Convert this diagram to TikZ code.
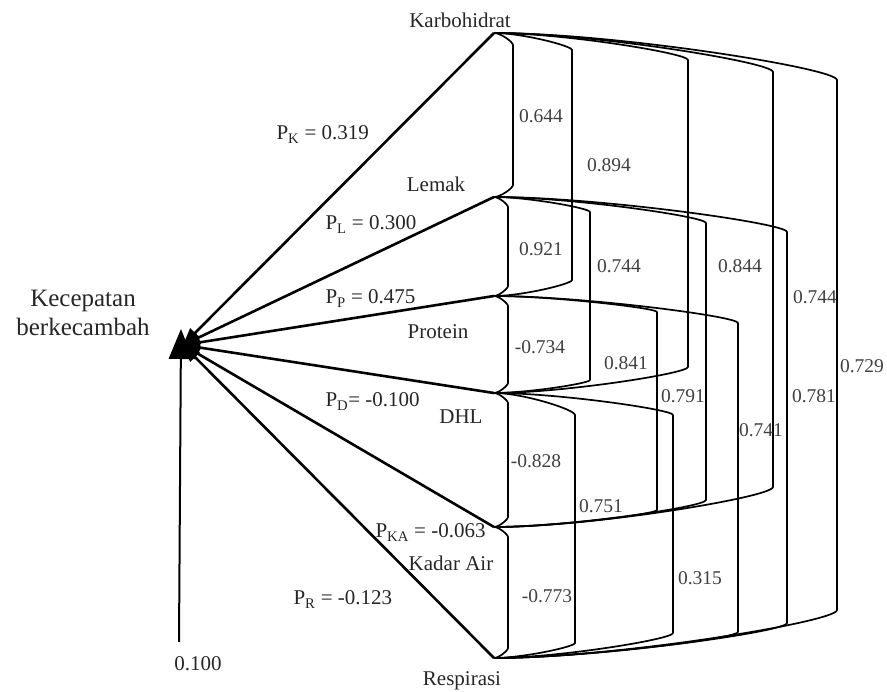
\documentclass[tikz,border=0pt]{standalone}
\usepackage{fontspec}
\setmainfont{Liberation Serif}
\usepackage{tikz}
\usetikzlibrary{calc}
\usetikzlibrary{arrows.meta}

\begin{document}
\begin{tikzpicture}[x=1pt, y=-1pt,
    path/.style={line width=2.6pt, -{Triangle[length=17pt, width=13pt]}},
    corr/.style={line width=1.7pt, line join=round},
    var/.style={anchor=base, font=\fontsize{21}{24}\selectfont, text=black!85},
    coef/.style={anchor=base, font=\fontsize{19.5}{22}\selectfont, text=black!75},
    pval/.style={anchor=base west, font=\fontsize{21}{24}\selectfont, text=black!85}]

    \def\vx{494}; % x coordinate of the variable points
    \useasboundingbox (0,0) rectangle (887,692);

    % points %%%%%%%%%%%%%%%%%%%%%%%%%%%%%%%%%%%%%%%%%%%%%%%%%%%%%%%%%%%%%%%%%%%%%%%%%%%%%%%%%%%
    \coordinate (hub) at (183,345); % where the paths meet
    \coordinate (top) at (181,329);
    \coordinate (err) at (179,642); % residual
    \coordinate (K) at (\vx,33);
    \coordinate (L) at (\vx,197);
    \coordinate (P) at (\vx,296);
    \coordinate (D) at (\vx,393);
    \coordinate (KA) at (\vx,527);
    \coordinate (R) at (\vx,658);

    % path arrows %%%%%%%%%%%%%%%%%%%%%%%%%%%%%%%%%%%%%%%%%%%%%%%%%%%%%%%%%%%%%%%%%%%%%%%%%%%%%%
    \foreach \v in {K,L,P,D,KA,R}{
      \draw[path] (\v) -- (hub);
    }
    \draw[path, line width=2pt, -{Triangle[length=30pt, width=24pt]}] (err) -- (top);

    % correlations %%%%%%%%%%%%%%%%%%%%%%%%%%%%%%%%%%%%%%%%%%%%%%%%%%%%%%%%%%%%%%%%%%%%%%%%%%%%%
    \foreach \a/\b/\xv/\dt/\db in {K/L/513/12/12, K/P/572/17/16, K/D/688/27/26, K/KA/773/39/40,
        K/R/837/47/48, L/P/508/10/10, L/D/590/15/13, L/KA/706/26/27, L/R/787/35/35,
        P/D/508/10/10, P/KA/657/16/17, P/R/738/27/26, D/KA/508/10/10, D/R/575/22/15,
        D/R/673/22/25, KA/R/508/10/10}{
      \pgfmathsetmacro\w{\xv-\vx}
      \draw[corr] (\a) .. controls ($(\a)+(0.35*\w,0)$) and ($(\a)+(\w,0.75*\dt)$) .. ($(\a)+(\w,\dt)$)
        -- ($(\b)+(\w,-\db)$) .. controls ($(\b)+(\w,-0.75*\db)$) and ($(\b)+(0.35*\w,0)$) .. (\b);
    }

    % variable names %%%%%%%%%%%%%%%%%%%%%%%%%%%%%%%%%%%%%%%%%%%%%%%%%%%%%%%%%%%%%%%%%%%%%%%%%%%
    \node[var] (tK) at (460,28) {Karbohidrat};
    \node[var] (tL) at (436,192) {Lemak};
    \node[var] (tP) at (438,339) {Protein};
    \node[var] (tD) at (461,424) {DHL};
    \node[var] (tKA) at (451,571) {Kadar Air};
    \node[var] (tR) at (462,685) {Respirasi};
    \node[var, align=center, font=\fontsize{25}{29}\selectfont] (tY) at (83,336) {Kecepatan\\berkecambah};
    \node[var] (tE) at (198,670) {0.100};

    % path coefficients %%%%%%%%%%%%%%%%%%%%%%%%%%%%%%%%%%%%%%%%%%%%%%%%%%%%%%%%%%%%%%%%%%%%%%%%
    \node[pval] (pK) at (273,140) {P\textsubscript{K} = 0.319};
    \node[pval] (pL) at (322,230) {P\textsubscript{L} = 0.300};
    \node[pval] (pP) at (322,304) {P\textsubscript{P} = 0.475};
    \node[pval] (pD) at (322,407) {P\textsubscript{D}= -0.100};
    \node[pval] (pKA) at (372,538) {P\textsubscript{KA} = -0.063};
    \node[pval] (pR) at (290,605) {P\textsubscript{R} = -0.123};

    % correlation values %%%%%%%%%%%%%%%%%%%%%%%%%%%%%%%%%%%%%%%%%%%%%%%%%%%%%%%%%%%%%%%%%%%%%%%
    \node[coef] (rKL) at (541,123) {0.644};
    \node[coef] (rKP) at (609,172) {0.894};
    \node[coef] (rLP) at (541,256) {0.921};
    \node[coef] (rLD) at (619,273) {0.744};
    \node[coef] (rLKA) at (740,273) {0.844};
    \node[coef] (rKKA) at (815,304) {0.744};
    \node[coef] (rKR) at (862,373) {0.729};
    \node[coef] (rPD) at (540,354) {-0.734};
    \node[coef] (rKD) at (626,370) {0.841};
    \node[coef] (rPKA) at (683,403) {0.791};
    \node[coef] (rLR) at (814,403) {0.781};
    \node[coef] (rPR) at (761,437) {0.741};
    \node[coef] (rDKA) at (536,468) {-0.828};
    \node[coef] (rDR) at (601,513) {0.751};
    \node[coef] (rDRb) at (700,584) {0.315};
    \node[coef] (rKAR) at (547,602) {-0.773};

\end{tikzpicture}
\end{document}
